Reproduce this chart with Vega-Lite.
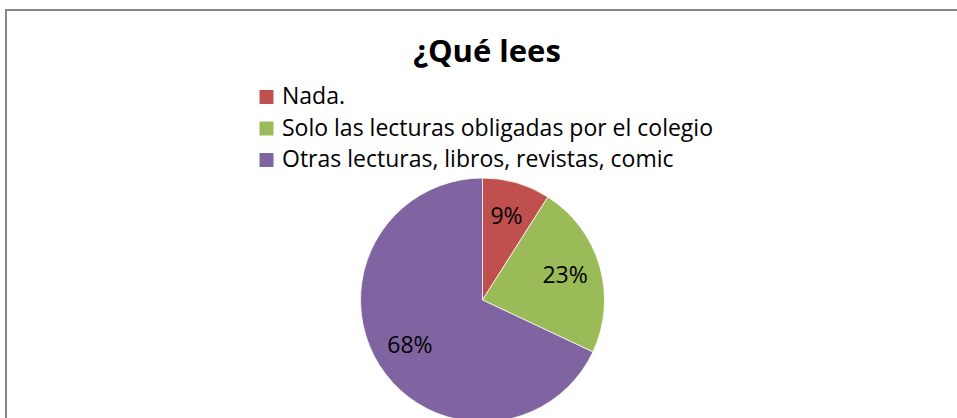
{
  "$schema": "https://vega.github.io/schema/vega-lite/v6.json",
  "width": 953,
  "height": 580,
  "autosize": {"type": "none"},
  "padding": {"left": 6, "top": 10, "right": -2, "bottom": 0},
  "background": "#ffffff",
  "view": {"stroke": "#868686", "strokeWidth": 2, "fill": "#ffffff"},
  "title": {
    "text": "¿Qué lees",
    "anchor": "middle",
    "orient": "top",
    "offset": -53,
    "dy": 30,
    "baseline": "alphabetic",
    "dx": 4.5,
    "font": "Open Sans",
    "fontSize": 31,
    "fontWeight": "bold",
    "color": "#000000"
  },
  "data": {
    "values": [
      {"categoria": "Nada.", "porcentaje": 9, "etiqueta": "9%", "orden": 1},
      {"categoria": "Solo las lecturas obligadas por el colegio", "porcentaje": 23, "etiqueta": "23%", "orden": 2},
      {"categoria": "Otras lecturas, libros, revistas, comic", "porcentaje": 68, "etiqueta": "68%", "orden": 3}
    ]
  },
  "encoding": {
    "theta": {"field": "porcentaje", "type": "quantitative", "stack": true},
    "order": {"field": "orden", "type": "quantitative"}
  },
  "layer": [
    {
      "mark": {"type": "arc", "outerRadius": 122, "stroke": "#ffffff", "strokeWidth": 0.75},
      "encoding": {
        "color": {
          "field": "categoria",
          "type": "nominal",
          "scale": {
            "domain": ["Nada.", "Solo las lecturas obligadas por el colegio", "Otras lecturas, libros, revistas, comic"],
            "range": ["#C0504D", "#9BBB59", "#8064A2"]
          },
          "legend": {
            "orient": "none",
            "legendX": 249,
            "legendY": 75.5,
            "title": null,
            "direction": "vertical",
            "symbolType": "square",
            "symbolSize": 196,
            "symbolStrokeWidth": 0,
            "labelFont": "Open Sans",
            "labelFontSize": 23,
            "labelColor": "#000000",
            "labelLimit": 700,
            "labelOffset": 4,
            "rowPadding": 7.5,
            "padding": 0
          }
        }
      }
    },
    {
      "mark": {"type": "text", "radius": 86, "font": "Open Sans", "fontSize": 23, "color": "#000000", "align": "center", "baseline": "middle"},
      "encoding": {
        "text": {"field": "etiqueta", "type": "nominal"}
      }
    }
  ],
  "config": {
    "view": {"stroke": "#868686", "strokeWidth": 2}
  }
}
